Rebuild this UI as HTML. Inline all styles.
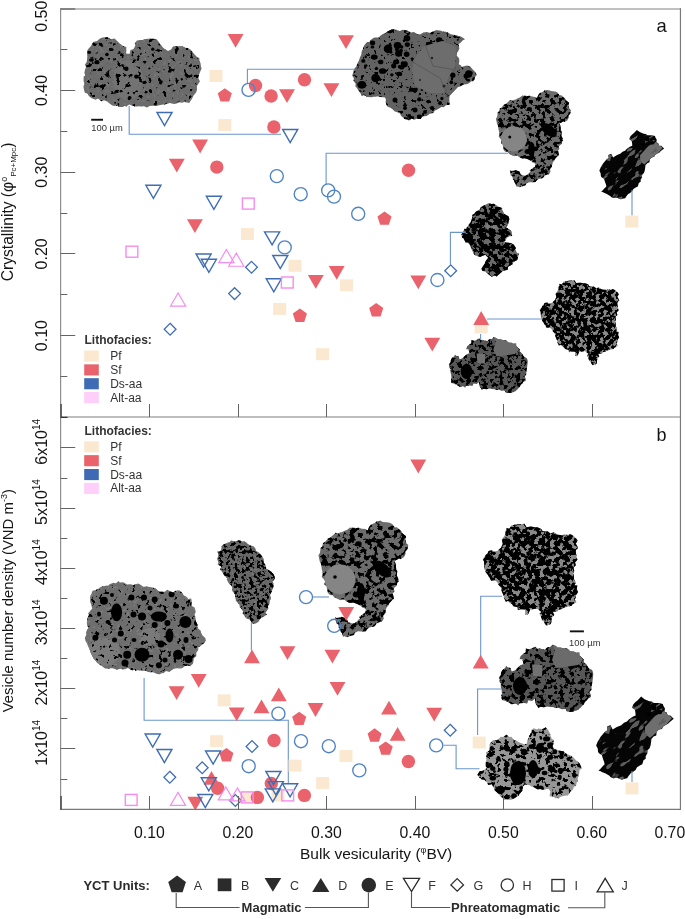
<!DOCTYPE html><html><head><meta charset="utf-8"><style>html,body{margin:0;padding:0;background:#fff;}svg{display:block;will-change:transform;}text{font-family:"Liberation Sans",sans-serif;}</style></head><body>
<svg width="685" height="919" viewBox="0 0 685 919">
<rect width="685" height="919" fill="#fff"/>
<clipPath id="c1"><polygon points="83.49,86.01 84.37,84.24 83.53,80.41 83.68,76.62 85.2,75.48 84.35,72.8 84.93,69.95 86.1,66.75 84.82,64.65 86.75,62.09 87.01,58.92 87.38,57.77 87.08,53.67 87.06,50.88 88.04,49.21 90.92,45.93 92.65,43.2 93.3,41.94 97.03,41.36 100,38.58 102.65,37.45 104.61,37.3 107.72,37.32 110.83,39.26 114.57,38.41 117.65,41.44 119.89,43.77 123.03,46.11 126.32,47.02 126.22,52.42 126.35,53.84 129.78,53.86 130.29,50.22 133.52,49.02 135.31,45.64 134.82,43.28 136.74,40.83 139.71,40 142.77,39.99 145.15,38.99 148.53,38.69 153.15,38.84 155.75,38.95 156.9,39.78 159.59,43.1 159.25,43.55 162.23,46.51 163.38,48.06 167.98,50.99 171.08,49.61 172.96,46.76 175.83,46.04 180.27,46.23 182.44,45.9 185.1,47.85 187.83,48.01 190.39,49.59 192.64,51.92 194.12,53.93 197.06,57.07 199.33,57.98 199.36,59.95 200.65,63.7 200.88,66.47 201.64,68.44 200.4,71.3 199.63,72.98 198.14,77.85 199.69,80.99 199.36,82.28 196.89,86.07 197.01,89.87 196.09,92.52 193.66,95.22 192.55,97.72 190.68,100.52 189.05,103.18 188.2,102.73 184.62,101.95 181.76,102.73 178.91,102.12 176.74,103.6 174.08,104.1 169.63,103.08 168.28,103.51 164.63,104.54 163.17,104.54 159.03,105.37 156.49,106.08 152.5,105.81 149.49,106.11 147,107.46 143.88,106.25 140.97,106.62 138.93,106.14 134.78,106.59 131.22,105.27 129.5,104.19 126.28,106.43 124.69,105.9 122.7,106.89 119.33,106.97 117.56,105.79 113.4,105.7 112.35,105.48 109.26,103.32 107.59,101.72 104.05,100.35 101.5,101.21 97.9,98.53 95.56,99.8 91.69,98.24 89.03,96.28 87.27,93.56 84.91,92.82 83.87,89.27"/></clipPath>
<filter id="f1" color-interpolation-filters="sRGB" filterUnits="userSpaceOnUse" x="80.8" y="35.6" width="122.6" height="73.3"><feTurbulence type="fractalNoise" baseFrequency="0.19" numOctaves="3" seed="11"/><feColorMatrix type="matrix" values="0 0 0 0 0  0 0 0 0 0  0 0 0 0 0  -12 0 0 0 4.62"/></filter>
<filter id="g1" color-interpolation-filters="sRGB" filterUnits="userSpaceOnUse" x="80.8" y="35.6" width="122.6" height="73.3"><feTurbulence type="fractalNoise" baseFrequency="0.3" numOctaves="2" seed="61"/><feColorMatrix type="matrix" values="0 0 0 0 0.46  0 0 0 0 0.46  0 0 0 0 0.46  12 0 0 0 -7.2"/></filter>
<g id="P1" clip-path="url(#c1)">
<rect x="80.8" y="35.6" width="122.6" height="73.3" fill="#6b6b6b"/>
<rect x="80.8" y="35.6" width="122.6" height="73.3" filter="url(#g1)"/>
<ellipse cx="128" cy="80" rx="15" ry="20" fill="#737373"/>
<rect x="80.8" y="35.6" width="122.6" height="73.3" filter="url(#f1)"/>
<ellipse cx="136.26" cy="76.63" rx="2.11" ry="2.1" fill="#000"/>
<ellipse cx="152.81" cy="49.14" rx="1.64" ry="1.69" fill="#000"/>
<ellipse cx="92.34" cy="57.84" rx="1.08" ry="1" fill="#000"/>
<ellipse cx="85.93" cy="107.59" rx="2.35" ry="2.25" fill="#000"/>
<ellipse cx="100.11" cy="36.7" rx="1.27" ry="1.35" fill="#000"/>
<ellipse cx="110.46" cy="37.81" rx="1.45" ry="1.65" fill="#000"/>
<ellipse cx="144.44" cy="82.53" rx="1.65" ry="1.47" fill="#000"/>
<ellipse cx="114.9" cy="108.73" rx="2.58" ry="2.38" fill="#000"/>
<ellipse cx="119.45" cy="52.43" rx="1" ry="1.33" fill="#000"/>
<ellipse cx="129.89" cy="97.65" rx="1.65" ry="1.53" fill="#000"/>
<ellipse cx="80.87" cy="50.97" rx="2.1" ry="2.47" fill="#000"/>
<ellipse cx="129.52" cy="40.95" rx="1.93" ry="1.53" fill="#000"/>
<ellipse cx="91.48" cy="59.98" rx="2.45" ry="1.82" fill="#000"/>
<ellipse cx="111.01" cy="43.01" rx="1.02" ry="0.77" fill="#000"/>
<ellipse cx="149.37" cy="68.4" rx="1.2" ry="0.91" fill="#000"/>
<ellipse cx="159.72" cy="44.14" rx="1.24" ry="1.26" fill="#000"/>
<ellipse cx="199.84" cy="94.49" rx="1.47" ry="1.08" fill="#000"/>
<ellipse cx="129.14" cy="98.23" rx="1.44" ry="2.03" fill="#000"/>
<ellipse cx="106.94" cy="54.53" rx="1.78" ry="1.73" fill="#000"/>
<ellipse cx="89.8" cy="42.21" rx="1.47" ry="1.68" fill="#000"/>
<ellipse cx="126.37" cy="68.82" rx="2.18" ry="2.21" fill="#000"/>
<ellipse cx="187.04" cy="49" rx="1.23" ry="1.14" fill="#000"/>
<ellipse cx="111.39" cy="49.51" rx="2.24" ry="1.61" fill="#000"/>
<ellipse cx="197.29" cy="100.26" rx="1.63" ry="1.38" fill="#000"/>
<ellipse cx="85.54" cy="106.16" rx="1.27" ry="1.02" fill="#000"/>
<ellipse cx="181.79" cy="79.32" rx="1.06" ry="1.32" fill="#000"/>
<ellipse cx="89.23" cy="52.34" rx="1.87" ry="1.66" fill="#000"/>
<ellipse cx="115.15" cy="102.84" rx="0.88" ry="0.99" fill="#000"/>
<ellipse cx="135.44" cy="40.03" rx="1.01" ry="1.08" fill="#000"/>
<ellipse cx="96.93" cy="62.15" rx="2.54" ry="2.18" fill="#000"/>
</g>
<clipPath id="c2"><polygon points="352.2,75.53 352.98,72.94 354.12,68.89 356.24,66.62 357.43,63.33 358.91,60.83 359.85,57.67 361.36,54.57 361.78,50.99 362.8,49.18 363.68,46.56 365.05,44.37 367.12,42.02 369.28,42.04 371.78,39.05 374.46,37.59 377.96,37.44 379.36,36.79 382.42,34.37 385.87,32.82 387.47,31.43 391.53,29.42 393.75,29.23 395.98,29.82 399.75,30.93 402.72,29.79 404.9,30.02 408.14,30.89 411.26,32.47 413.75,32.07 416.55,33.49 417.57,34.43 420.41,34.26 423.59,32.57 426.92,31.9 430.18,33.09 431.38,32.16 434.78,30.67 437.37,30.16 441.12,30.64 442.45,31.6 445.72,31.76 448.39,32.87 450.63,34.19 453.4,34.82 455.57,35.05 458.78,36.07 460.86,36.6 463.62,38.18 465.02,39.2 462.9,40.24 460.78,42.39 458.73,43.98 459.33,48.41 458.19,51.2 457.02,52.67 456.81,55.74 459.19,58.41 459.32,61.47 458.76,64.29 460.76,65.35 461.96,66.89 466.53,65.57 468.19,65.76 470.61,67.08 472.96,69.64 475.64,72.5 476.61,75.05 474.88,77.21 474.27,79.93 472.04,81.49 471.29,81.35 468.67,83.39 466.27,84.28 463.29,84.58 460.13,86.58 458.07,87.12 455.45,89.67 454.04,91.15 452.16,93.17 449.59,96.03 449.37,98.75 449.36,101.37 449.69,104.38 445.99,105.19 443.68,107.25 441.33,107.05 439.44,108.3 437.78,109.23 434.58,110.78 432.99,113.23 429.81,113.86 426.82,115.57 425.83,115.9 421.71,116.87 420.91,119.12 416.92,118.71 414.12,119.67 411.69,118.51 409.09,120.48 407.58,119.48 404.78,118.97 401.21,116 399.93,113.48 396.94,112.02 394.86,111.43 392.53,109.15 390.34,107.8 388.46,107.05 386.44,105.14 385.76,102.1 385.85,99.16 385.02,97.48 380.99,97.12 378.59,96.62 375.44,96.54 372.65,97.11 371.56,97.27 367.49,96.93 363.89,94.89 361.28,95.75 360.86,93.71 358.82,91.23 356.61,87.52 355.45,86.69 355.63,83.39 353.56,81.05 353.85,78.32"/></clipPath>
<filter id="f2" color-interpolation-filters="sRGB" filterUnits="userSpaceOnUse" x="350.8" y="27.7" width="127.4" height="94.2"><feTurbulence type="fractalNoise" baseFrequency="0.28" numOctaves="3" seed="12"/><feColorMatrix type="matrix" values="0 0 0 0 0  0 0 0 0 0  0 0 0 0 0  -12 0 0 0 4.44"/></filter>
<g id="P2" clip-path="url(#c2)">
<rect x="350.8" y="27.7" width="127.4" height="94.2" fill="#626262"/>
<rect x="350.8" y="27.7" width="127.4" height="94.2" filter="url(#f2)"/>
<ellipse cx="411.26" cy="89.63" rx="2.33" ry="2.17" fill="#000"/>
<ellipse cx="398.54" cy="53.52" rx="3.43" ry="3.21" fill="#000"/>
<ellipse cx="421.91" cy="90" rx="1.29" ry="1.12" fill="#000"/>
<ellipse cx="466.22" cy="33.24" rx="2.59" ry="3.34" fill="#000"/>
<ellipse cx="393.73" cy="65.81" rx="2.57" ry="2.62" fill="#000"/>
<ellipse cx="467.38" cy="75.64" rx="1.43" ry="1.35" fill="#000"/>
<ellipse cx="365.14" cy="67.57" rx="1.19" ry="1.33" fill="#000"/>
<ellipse cx="371.63" cy="93.34" rx="0.91" ry="1.17" fill="#000"/>
<ellipse cx="401.83" cy="67.15" rx="2.55" ry="2.39" fill="#000"/>
<ellipse cx="354.68" cy="96.12" rx="4.35" ry="3.74" fill="#000"/>
<ellipse cx="396.2" cy="61.91" rx="3.05" ry="2.34" fill="#000"/>
<ellipse cx="380.74" cy="61.92" rx="2.66" ry="2.28" fill="#000"/>
<ellipse cx="354.39" cy="105.19" rx="2.13" ry="1.83" fill="#000"/>
<ellipse cx="405.23" cy="64.27" rx="2.53" ry="3.04" fill="#000"/>
<ellipse cx="373.48" cy="93.25" rx="0.92" ry="0.94" fill="#000"/>
<ellipse cx="431.94" cy="32.6" rx="1.91" ry="1.95" fill="#000"/>
<ellipse cx="411.48" cy="118.01" rx="2.7" ry="1.91" fill="#000"/>
<ellipse cx="468.55" cy="62.01" rx="1.6" ry="1.64" fill="#000"/>
<ellipse cx="351.65" cy="52.97" rx="2.84" ry="2.67" fill="#000"/>
<ellipse cx="351.9" cy="31.47" rx="3.2" ry="3.08" fill="#000"/>
<ellipse cx="414.96" cy="29.95" rx="2.04" ry="2.01" fill="#000"/>
<ellipse cx="432.26" cy="49.32" rx="2.36" ry="2.44" fill="#000"/>
<ellipse cx="384.27" cy="116.88" rx="2.89" ry="3.04" fill="#000"/>
<ellipse cx="462.04" cy="53.92" rx="3.56" ry="3.72" fill="#000"/>
<ellipse cx="440.58" cy="47.87" rx="1.53" ry="1.79" fill="#000"/>
<ellipse cx="439.23" cy="40.11" rx="3.26" ry="2.95" fill="#000"/>
<ellipse cx="406.25" cy="119.97" rx="2.61" ry="2.82" fill="#000"/>
<ellipse cx="473.36" cy="99.33" rx="2.16" ry="2.35" fill="#000"/>
<ellipse cx="451.35" cy="82.35" rx="1.78" ry="2.01" fill="#000"/>
<ellipse cx="422.57" cy="29.31" rx="3.4" ry="3.15" fill="#000"/>
<ellipse cx="465.14" cy="113.47" rx="2.71" ry="2.23" fill="#000"/>
<ellipse cx="363.32" cy="60.97" rx="2.13" ry="1.87" fill="#000"/>
<ellipse cx="419.8" cy="86.3" rx="1.29" ry="1.34" fill="#000"/>
<ellipse cx="401.02" cy="50.85" rx="1.89" ry="2.15" fill="#000"/>
<ellipse cx="368.87" cy="36.23" rx="1.94" ry="1.92" fill="#000"/>
<ellipse cx="434.81" cy="115.75" rx="1.53" ry="1.88" fill="#000"/>
<ellipse cx="407.33" cy="44.6" rx="2.58" ry="2.42" fill="#000"/>
<ellipse cx="392.52" cy="116.61" rx="0.89" ry="0.84" fill="#000"/>
<ellipse cx="376.45" cy="68.44" rx="1.81" ry="1.5" fill="#000"/>
<ellipse cx="439.74" cy="42.99" rx="2.31" ry="2.45" fill="#000"/>
<ellipse cx="382.63" cy="71" rx="3.77" ry="2.86" fill="#000"/>
<ellipse cx="419.34" cy="99.41" rx="2.17" ry="2.1" fill="#000"/>
<ellipse cx="474.69" cy="79.88" rx="2.62" ry="2.99" fill="#000"/>
<ellipse cx="391.86" cy="74.79" rx="1.76" ry="1.6" fill="#000"/>
<ellipse cx="379.55" cy="78.97" rx="1.3" ry="1.77" fill="#000"/>
<ellipse cx="387.19" cy="115.88" rx="2.45" ry="2.89" fill="#000"/>
<ellipse cx="465.11" cy="57.94" rx="1.35" ry="1.41" fill="#000"/>
<ellipse cx="428.32" cy="101.58" rx="2.17" ry="1.82" fill="#000"/>
<ellipse cx="402.64" cy="63.47" rx="1.9" ry="2.18" fill="#000"/>
<ellipse cx="372.44" cy="47.02" rx="1.96" ry="1.6" fill="#000"/>
<ellipse cx="357.54" cy="106.39" rx="3.81" ry="3.07" fill="#000"/>
<ellipse cx="444.39" cy="56.48" rx="1.51" ry="1.44" fill="#000"/>
<ellipse cx="377.71" cy="110.58" rx="0.91" ry="0.78" fill="#000"/>
<ellipse cx="372.59" cy="43.08" rx="2.64" ry="2.48" fill="#000"/>
<ellipse cx="374.25" cy="57.09" rx="3.46" ry="2.71" fill="#000"/>
<ellipse cx="438.07" cy="78.21" rx="2.19" ry="2.24" fill="#000"/>
<ellipse cx="452.81" cy="75.3" rx="2.64" ry="2.76" fill="#000"/>
<ellipse cx="400.29" cy="66.78" rx="2.57" ry="2.09" fill="#000"/>
<ellipse cx="468.63" cy="74" rx="3.57" ry="3.8" fill="#000"/>
<ellipse cx="437.74" cy="67.91" rx="2.14" ry="2.2" fill="#000"/>
<ellipse cx="457.69" cy="39.88" rx="0.91" ry="0.89" fill="#000"/>
<ellipse cx="357.99" cy="28.49" rx="1.34" ry="1.69" fill="#000"/>
<ellipse cx="429.25" cy="118.66" rx="3.97" ry="4.12" fill="#000"/>
<ellipse cx="354.38" cy="49.17" rx="3.45" ry="3" fill="#000"/>
<ellipse cx="447.22" cy="67.6" rx="2.23" ry="2.12" fill="#000"/>
<ellipse cx="361.91" cy="84.87" rx="4.32" ry="3.84" fill="#000"/>
<ellipse cx="469.72" cy="61.82" rx="2.07" ry="1.77" fill="#000"/>
<ellipse cx="436.04" cy="28.88" rx="1.54" ry="1.66" fill="#000"/>
<ellipse cx="456.01" cy="99.04" rx="1.77" ry="2.08" fill="#000"/>
<ellipse cx="476.87" cy="73.39" rx="1.54" ry="1.45" fill="#000"/>
<ellipse cx="396.88" cy="49.41" rx="2.09" ry="1.65" fill="#000"/>
<ellipse cx="419.71" cy="117.41" rx="2.66" ry="2.82" fill="#000"/>
<ellipse cx="363.84" cy="97.13" rx="2.29" ry="2.66" fill="#000"/>
<ellipse cx="426.71" cy="82.07" rx="1.81" ry="1.81" fill="#000"/>
<ellipse cx="477.89" cy="58.82" rx="2.27" ry="1.96" fill="#000"/>
<ellipse cx="401.73" cy="47.01" rx="1.71" ry="1.66" fill="#000"/>
<ellipse cx="470.29" cy="55.67" rx="1.97" ry="1.72" fill="#000"/>
<ellipse cx="416.5" cy="88.7" rx="1.21" ry="0.92" fill="#000"/>
<ellipse cx="382.68" cy="103.98" rx="3.94" ry="3.1" fill="#000"/>
<ellipse cx="406.63" cy="54.32" rx="2.87" ry="2.79" fill="#000"/>
<ellipse cx="432.09" cy="87.72" rx="2.53" ry="2.95" fill="#000"/>
<ellipse cx="409.21" cy="115.97" rx="1.98" ry="1.85" fill="#000"/>
<ellipse cx="441.91" cy="98.49" rx="1.6" ry="1.69" fill="#000"/>
<ellipse cx="414.7" cy="90.1" rx="2.88" ry="2.42" fill="#000"/>
<ellipse cx="389.86" cy="30.02" rx="3.82" ry="3.16" fill="#000"/>
<ellipse cx="474.02" cy="112.71" rx="1.54" ry="1.27" fill="#000"/>
<ellipse cx="390.84" cy="52.11" rx="1.66" ry="1.65" fill="#000"/>
<ellipse cx="365.69" cy="56.65" rx="1.14" ry="1.5" fill="#000"/>
<ellipse cx="399.17" cy="73.88" rx="3.08" ry="2.17" fill="#000"/>
<ellipse cx="379.86" cy="108.75" rx="4.09" ry="3.39" fill="#000"/>
<ellipse cx="397.56" cy="45.47" rx="3.84" ry="3.43" fill="#000"/>
<ellipse cx="451.62" cy="52.26" rx="2.83" ry="1.97" fill="#000"/>
<ellipse cx="429.45" cy="45.16" rx="3.72" ry="3.34" fill="#000"/>
<ellipse cx="406.34" cy="29.73" rx="2.15" ry="2.14" fill="#000"/>
<ellipse cx="360.7" cy="114.39" rx="2.43" ry="2.63" fill="#000"/>
<polygon points="415,58 424,46 442,41 456,47 455,66 448,78 444,93 430,93 415,86 412,70" fill="#6d6d6d"/>
<polyline points="413,62 440,78 448,96" fill="none" stroke="#555" stroke-width="0.8"/><polyline points="425,45 433,66 456,70" fill="none" stroke="#555" stroke-width="0.8"/><circle cx="432" cy="58" r="1.2" fill="#222"/><circle cx="444" cy="86" r="1.5" fill="#222"/><circle cx="420" cy="80" r="1" fill="#222"/><circle cx="388" cy="48.7" r="4.3" fill="#000"/><circle cx="375.6" cy="78" r="4.3" fill="#000"/><circle cx="407" cy="38.3" r="3.3" fill="#000"/><circle cx="455" cy="95" r="2.5" fill="#000"/><circle cx="462" cy="85" r="2" fill="#000"/><circle cx="450" cy="105" r="2.5" fill="#000"/><circle cx="440" cy="103" r="2" fill="#000"/><circle cx="432" cy="108" r="2" fill="#000"/><circle cx="466" cy="76" r="2.5" fill="#000"/><circle cx="471" cy="73" r="1.8" fill="#000"/><circle cx="425" cy="112" r="2" fill="#000"/><circle cx="415" cy="110" r="2.5" fill="#000"/><circle cx="405" cy="108" r="2" fill="#000"/><circle cx="395" cy="100" r="2.5" fill="#000"/><circle cx="458" cy="100" r="1.8" fill="#000"/><circle cx="445" cy="112" r="1.8" fill="#000"/><circle cx="468" cy="80" r="1.5" fill="#000"/>
</g>
<clipPath id="c5"><polygon points="462.15,237.64 461.44,234.45 464.63,228.85 466.4,228.99 466.59,227.63 468.85,224.47 470.7,222.16 472.04,218.16 472.46,214.86 474.11,213.94 475.79,211.74 479.92,209.46 480.76,207.3 483.38,205.66 483.77,205.54 488.75,203.34 491.75,203.92 493.84,203.77 495.67,204.63 498.14,206.57 502.02,207.92 502.24,209.7 504.44,213.91 508.78,216.49 509.33,219.23 508.58,222.1 508,224.42 506.56,227.51 511.24,230.97 511.76,231.81 512.14,236.1 507.7,236.57 504.34,242.2 508.67,242.64 511.39,243.33 513.84,244.66 516.06,248.25 515.3,249.25 516.86,253.08 518.86,253.58 518.01,257.2 517.25,260.12 513.43,262.09 512.53,264.18 510.9,265.18 508.04,266.81 507.73,269.77 503.75,270.74 502.01,271.78 498.28,274.97 496.67,276.54 494.75,275.54 491.78,276.79 488.7,274.44 485.29,271.49 482.15,270.75 481.44,268.69 484.38,263.93 485.73,261.02 488.23,257.81 485.28,254.79 481.56,256.35 480.11,256.96 474.65,255.04 473.05,252.42 471.34,248.46 470.09,244.95 467.95,242.62 465.82,242.74 464.08,239.48"/></clipPath>
<filter id="f5" color-interpolation-filters="sRGB" filterUnits="userSpaceOnUse" x="459.6" y="201.2" width="60.9" height="76.8"><feTurbulence type="fractalNoise" baseFrequency="0.2" numOctaves="3" seed="15"/><feColorMatrix type="matrix" values="0 0 0 0 0  0 0 0 0 0  0 0 0 0 0  -12 0 0 0 7.2"/></filter>
<g id="P5" clip-path="url(#c5)">
<rect x="459.6" y="201.2" width="60.9" height="76.8" fill="#6a6a6a"/>
<ellipse cx="492" cy="226" rx="6" ry="5" fill="#7a7a7a"/>
<rect x="459.6" y="201.2" width="60.9" height="76.8" filter="url(#f5)"/>
</g>
<clipPath id="c8"><polygon points="84.81,638 86.58,634.11 85.82,633.51 87.25,629.34 88.4,628.24 87.18,625.45 86.82,622.64 87.39,617.8 88.99,615.11 88.07,613.62 91.27,609.6 92.28,608.66 91.34,604.96 90.17,601.91 90.11,599.01 90.2,596.49 91.18,594.52 92.59,590.68 95.23,590.13 98.31,588.78 101.21,586.66 105.62,585.71 108.45,585.52 109.58,584.14 113.32,582.67 116.08,583.14 118.49,580.95 119.79,582.44 123.23,582.3 127.17,584.43 130.06,584.24 133.68,584.94 137.98,583.51 139.66,584.21 143.37,586.63 146.68,586.52 151.29,587.17 155.55,588.24 158.1,590.69 160.13,591.48 164.84,591.64 167.11,589.63 169.68,590.96 173.14,592.4 175.72,590.79 179.48,590.6 181.13,591.69 183.93,595.45 186.53,596.65 188.18,599.01 191.18,598.46 191.68,601.46 191.36,605.72 194.19,607.37 195.03,608.63 195.74,612 194.6,614.21 195.51,617.96 195.87,620.81 195.78,621.04 197.49,624.57 197.55,627.55 198.16,628.57 200.73,630.85 201.08,632.82 202.53,635.49 205.32,637.92 205.9,640.83 203.06,643.93 200.52,646.08 198.24,647.22 198.24,649.99 196.3,652.86 196.31,655.93 193.81,658.13 193.46,661.34 192.92,663.85 190.18,666.35 187.68,665.62 184.42,666.34 183.5,667.33 181.26,668.55 176.58,668.13 173.92,668.8 171.18,670.49 169.37,672.06 166.04,671.07 163.4,673.2 162.6,672.9 159.6,674.19 156.45,673.82 153.13,672.27 151.7,672.3 147.65,672.08 146.74,671.34 143.65,670.42 142,670.79 137.62,670.13 135.62,670.99 134.17,669.02 132.09,670.41 127.96,667.89 124.86,669.13 122.77,669.49 120.44,668.69 117.96,669.17 116.91,669.71 112.62,668.28 110.25,668.25 108.97,668.68 105.29,668.56 102.69,666.66 99.86,664.57 97.22,662.82 95.64,660.77 93.53,658.47 92.36,656.19 91.46,654.33 90.49,652.45 89.24,648.16 88.16,646.59 87.5,644.22 85.65,641.13"/></clipPath>
<filter id="f8" color-interpolation-filters="sRGB" filterUnits="userSpaceOnUse" x="83.9" y="579.6" width="123.6" height="96.1"><feTurbulence type="fractalNoise" baseFrequency="0.22" numOctaves="3" seed="18"/><feColorMatrix type="matrix" values="0 0 0 0 0  0 0 0 0 0  0 0 0 0 0  -12 0 0 0 4.44"/></filter>
<filter id="g8" color-interpolation-filters="sRGB" filterUnits="userSpaceOnUse" x="83.9" y="579.6" width="123.6" height="96.1"><feTurbulence type="fractalNoise" baseFrequency="0.3" numOctaves="2" seed="68"/><feColorMatrix type="matrix" values="0 0 0 0 0.49  0 0 0 0 0.49  0 0 0 0 0.49  12 0 0 0 -7.44"/></filter>
<g id="P8" clip-path="url(#c8)">
<rect x="83.9" y="579.6" width="123.6" height="96.1" fill="#6e6e6e"/>
<rect x="83.9" y="579.6" width="123.6" height="96.1" filter="url(#g8)"/>
<ellipse cx="104" cy="652" rx="16" ry="14" fill="#7b7b7b"/>
<ellipse cx="150" cy="636" rx="10" ry="8" fill="#7a7a7a"/>
<rect x="83.9" y="579.6" width="123.6" height="96.1" filter="url(#f8)"/>
<ellipse cx="116.6" cy="612.3" rx="5.5" ry="9" fill="#000"/><ellipse cx="142" cy="654.7" rx="7.5" ry="7" fill="#000"/><ellipse cx="127.2" cy="654.7" rx="4" ry="4" fill="#000"/><ellipse cx="158.9" cy="616.6" rx="8" ry="5" fill="#000"/><ellipse cx="169.5" cy="635.6" rx="4" ry="7" fill="#000"/><ellipse cx="185.4" cy="621.9" rx="6" ry="6" fill="#000"/><ellipse cx="178" cy="654.7" rx="5" ry="5" fill="#000"/><ellipse cx="103.9" cy="600.7" rx="4" ry="4" fill="#000"/><ellipse cx="142" cy="616.6" rx="4" ry="4" fill="#000"/><ellipse cx="188.5" cy="658.9" rx="4" ry="4" fill="#000"/><ellipse cx="161" cy="644" rx="3.5" ry="3.5" fill="#000"/><ellipse cx="131.4" cy="597.5" rx="3" ry="3" fill="#000"/><ellipse cx="144" cy="597.5" rx="3" ry="3" fill="#000"/><ellipse cx="154.7" cy="599.6" rx="3" ry="3" fill="#000"/><ellipse cx="171.6" cy="594.3" rx="3" ry="3" fill="#000"/><ellipse cx="120.8" cy="633.5" rx="3" ry="3" fill="#000"/><ellipse cx="114.5" cy="639.9" rx="2.5" ry="2.5" fill="#000"/><ellipse cx="95.4" cy="637.7" rx="3" ry="3" fill="#000"/><ellipse cx="154.7" cy="625" rx="3" ry="3" fill="#000"/><ellipse cx="167.4" cy="622.9" rx="3" ry="3" fill="#000"/><ellipse cx="197" cy="622.9" rx="3" ry="3" fill="#000"/><ellipse cx="125" cy="663.1" rx="3.5" ry="3.5" fill="#000"/><ellipse cx="158.9" cy="665.3" rx="3" ry="3" fill="#000"/><ellipse cx="133.5" cy="614.5" rx="3" ry="3" fill="#000"/><ellipse cx="108" cy="622" rx="2.5" ry="2" fill="#000"/><ellipse cx="150" cy="608" rx="2.5" ry="2.5" fill="#000"/><ellipse cx="176" cy="606" rx="3" ry="2.5" fill="#000"/><ellipse cx="186" cy="640" rx="2.5" ry="3" fill="#000"/><ellipse cx="134" cy="640" rx="2.5" ry="2" fill="#000"/><ellipse cx="99" cy="614" rx="2" ry="2.5" fill="#000"/><ellipse cx="165" cy="660" rx="2.5" ry="2.5" fill="#000"/><ellipse cx="112" cy="595" rx="2" ry="2" fill="#000"/><ellipse cx="192" cy="604" rx="2.5" ry="2" fill="#000"/>
</g>
<clipPath id="c9"><polygon points="217.66,551.38 220.46,550.95 221.49,548.64 221.36,546.33 223.97,544.23 227.28,542.7 229.81,541.99 230.97,540.39 235.34,541.6 239.04,540.36 242.67,541.49 244.98,541.53 248.25,544.31 249.89,545.01 254.01,546.71 255.39,548.5 256.14,551.31 259.54,552.95 261.85,556.07 263.37,558.43 263.57,560.64 263.75,562.78 265.51,564.75 266.44,568.92 268.21,569.85 271.25,571.77 273.04,573.61 274.97,576.62 274.68,578.75 272.64,581.49 273.55,583.61 273.32,588.06 272.53,589.28 271.7,591.82 269.98,594.74 271.13,598.8 269.61,600.84 269.29,604.11 267.86,606.02 268.45,608.45 265.42,612.76 266.87,614.53 264.12,616.18 260.44,618.45 258.33,621.9 255,623.64 252.9,623.76 251.64,622.37 249.58,619.22 247.12,619.12 245.13,616.86 242.69,613.31 243.18,611.51 240.94,608.56 239.81,607.35 239.73,604.91 237.22,602.26 235.9,600.48 235.16,596.43 235.24,594.87 232.86,591.48 231.85,590.01 232.65,586.99 229.53,584.22 228.42,582.63 226.72,579.18 227.38,578.74 224.02,575.08 222.74,572.64 222.09,571.64 220.23,569.47 221.28,566.42 217.71,564.43 218.48,562.87 217.16,559.06 218.32,555.49"/></clipPath>
<filter id="f9" color-interpolation-filters="sRGB" filterUnits="userSpaceOnUse" x="215.7" y="538.9" width="60.8" height="87.5"><feTurbulence type="fractalNoise" baseFrequency="0.26" numOctaves="3" seed="19"/><feColorMatrix type="matrix" values="0 0 0 0 0  0 0 0 0 0  0 0 0 0 0  -12 0 0 0 6"/></filter>
<filter id="g9" color-interpolation-filters="sRGB" filterUnits="userSpaceOnUse" x="215.7" y="538.9" width="60.8" height="87.5"><feTurbulence type="fractalNoise" baseFrequency="0.35" numOctaves="2" seed="69"/><feColorMatrix type="matrix" values="0 0 0 0 0.47  0 0 0 0 0.47  0 0 0 0 0.47  12 0 0 0 -7.2"/></filter>
<g id="P9" clip-path="url(#c9)">
<rect x="215.7" y="538.9" width="60.8" height="87.5" fill="#676767"/>
<rect x="215.7" y="538.9" width="60.8" height="87.5" filter="url(#g9)"/>
<rect x="215.7" y="538.9" width="60.8" height="87.5" filter="url(#f9)"/>
</g>
<clipPath id="c10"><polygon points="318.44,555.27 319.86,552.95 320.42,549.85 320.17,548.52 321.94,546.66 323.09,543.08 324.74,542.15 327.65,538.74 329.75,537.64 330.84,537.04 333.21,535.02 335.53,532.85 337.97,533.28 342.17,532.11 344.52,530.68 346.89,529.93 349.72,527.87 352.42,527.65 356.3,528.12 358.97,527.63 361.76,528.63 365.6,529.09 367.64,530.4 369.17,526.86 371.17,524.44 374.67,523.07 377.01,521.14 380.76,520.86 382.46,521.89 386.56,522.24 389.76,522.63 392.14,523.88 394.76,527.21 396.91,527.17 399.66,529.78 401.7,531.69 402.59,533.46 406.1,536.2 405.48,540.03 406.62,543.69 408.34,544.88 407.51,549.03 405.02,551.96 405.65,553.83 403.87,557.32 400.17,559.14 399.15,558.33 394.67,561.27 395.62,563.76 396.01,565.87 396.1,568.46 397.27,570.97 396.79,575.6 398.39,578.95 399,581.31 397.13,582.68 396.97,585.45 393.49,588.54 394.57,591.18 392.83,593.74 393.99,598.96 391.76,600.49 388.87,603.76 388.3,605.74 386.62,607.19 385.75,609.72 385.38,612.98 383.24,616.27 383.86,618.65 381.63,621.62 380.28,621.63 377.46,623.11 374.24,626.22 373.06,626.6 368.96,627.67 366.6,629.84 365.91,631.14 361.9,631.43 358,631.33 355.05,632.83 353.86,635 350.95,635.8 347.11,637.31 344.5,636.37 342.85,636.55 342.03,633.29 340.85,631.67 339.79,628.52 338.84,627.89 338.09,624.59 336.12,623.2 335.36,616.8 336.29,617.94 340.63,617.41 341.56,616.75 345.46,618.2 346.58,618.47 348.09,622.04 351.43,623.17 354.1,623.44 357.2,621.13 358.21,619.84 360.06,618.61 358.74,616.98 361.04,615.38 365.4,612.35 365.84,609.39 363.76,607.85 363.11,608.03 360.11,605.48 356.72,603.86 352.97,602.52 349.95,602.99 345.96,601.13 344.78,599.88 342.2,599.14 340.34,600.19 336.88,598.62 334.38,597.53 332.56,595.15 330.11,595.03 327.82,592.93 327.18,589.39 326.37,585.85 324.42,584.42 325,581.05 323.38,578.74 321.79,576.51 322.91,573.74 321.86,569.38 321.72,568.04 320.96,563.93 319.87,561.88"/></clipPath>
<filter id="f10" color-interpolation-filters="sRGB" filterUnits="userSpaceOnUse" x="316.4" y="518.4" width="93.7" height="121.2"><feTurbulence type="fractalNoise" baseFrequency="0.18" numOctaves="3" seed="20"/><feColorMatrix type="matrix" values="0 0 0 0 0  0 0 0 0 0  0 0 0 0 0  -12 0 0 0 6.12"/></filter>
<g id="P10" clip-path="url(#c10)">
<rect x="316.4" y="518.4" width="93.7" height="121.2" fill="#6c6c6c"/>
<rect x="316.4" y="518.4" width="93.7" height="121.2" filter="url(#f10)"/>
<ellipse cx="401.26" cy="601.57" rx="4.26" ry="3.19" fill="#000"/>
<ellipse cx="375.97" cy="628.08" rx="3.96" ry="3.25" fill="#000"/>
<ellipse cx="354.96" cy="638.85" rx="2.08" ry="2.6" fill="#000"/>
<ellipse cx="358.51" cy="543.69" rx="3.18" ry="2.46" fill="#000"/>
<ellipse cx="356.44" cy="594.48" rx="3.69" ry="3.01" fill="#000"/>
<ellipse cx="370.11" cy="522.65" rx="1.94" ry="2.36" fill="#000"/>
<ellipse cx="342.96" cy="602.06" rx="1.98" ry="1.88" fill="#000"/>
<ellipse cx="382.53" cy="622.52" rx="2.21" ry="1.96" fill="#000"/>
<ellipse cx="340" cy="579.5" rx="15.5" ry="15" fill="#858585"/>
<circle cx="335" cy="577" r="1.8" fill="#000"/><ellipse cx="382" cy="569" rx="11" ry="6" transform="rotate(40 382 569)" fill="#000"/><ellipse cx="361" cy="592" rx="4" ry="9" fill="#000"/>
</g>
<clipPath id="c11"><polygon points="482.81,559.21 486.26,554.37 487.14,554.13 488.59,550.92 491.86,550.23 493.76,551.86 497.61,550.63 499.51,548.89 500.94,547.81 502.67,543.95 502.75,543.79 501.78,539.69 502.85,538.35 505.61,534.05 505.26,532.9 506.69,527.88 509.2,528.67 511.59,525.53 514.4,524.79 516.53,524.2 521.36,524.13 524.48,523.7 526.55,527.14 530.97,526.61 532.1,526.8 536.23,527.5 536.76,527.11 541.34,528.94 542.86,531.16 546.14,531.54 547.62,531.32 550.44,533.4 553.46,532.25 557.66,534.87 560.14,535.12 562.16,535.01 565.05,534.69 568.4,534.73 570.15,534.18 572.16,535.12 575.82,537.93 577.59,540.5 576,543.5 578.13,547.98 576.12,549.82 575.78,551.52 576.57,556.75 577.47,559.71 575.19,562.16 575.02,562.46 575.93,565.26 573.56,567.48 574.3,571.32 573.04,573.2 573.78,574.95 574.1,579.39 575.99,582.51 574.34,585.14 577.35,585.54 576.74,589.37 578.07,592.07 575.79,595.47 575.71,598 574.55,599.58 576.54,602.29 571.92,604.83 571.86,605.68 566.89,606.81 563.7,607.8 562.56,608.76 558.5,609.94 557.59,611.62 552.81,611.78 554.3,614.98 551.87,617.79 551.31,622.59 550.75,623.9 546.46,625.44 545.27,624.36 543.44,620.92 541.96,620.45 541.73,618.67 539.6,613.39 541.52,611.9 536.87,608.51 535.46,608.68 532.53,609.22 530.29,609.43 528.39,613.68 527.73,615.16 526.18,614.53 525.46,614.49 525.12,609.42 520.83,609.15 517.89,609.94 517.61,607.3 513.4,606.14 512.1,604.26 507.55,601.16 505.8,601.85 503.71,597.23 504.19,596.93 503.01,594.33 501.14,589.82 501.09,588.41 500.28,586.63 498.41,584.65 497.15,582.05 494.6,580.32 491.21,580.74 490.31,579.33 487.55,574.62 485.77,572.3 484.93,569.68 484.36,566.67 483.97,561.55"/></clipPath>
<filter id="f11" color-interpolation-filters="sRGB" filterUnits="userSpaceOnUse" x="481.1" y="520.9" width="98.6" height="107.3"><feTurbulence type="fractalNoise" baseFrequency="0.2" numOctaves="3" seed="21"/><feColorMatrix type="matrix" values="0 0 0 0 0  0 0 0 0 0  0 0 0 0 0  -12 0 0 0 7.2"/></filter>
<g id="P11" clip-path="url(#c11)">
<rect x="481.1" y="520.9" width="98.6" height="107.3" fill="#898989"/>
<rect x="481.1" y="520.9" width="98.6" height="107.3" filter="url(#f11)"/>
</g>
<clipPath id="c12"><polygon points="501.29,695.29 501.93,693.54 501.53,689.37 500.83,687.49 500.82,683.39 499.78,682.23 499.35,677.16 500.97,674.73 500.77,673.02 502.55,669.96 505.31,667.82 506.11,665.83 507.6,667.13 510.43,667.98 511.73,671.52 515.14,670.16 517.49,667.93 520.57,664.97 523.69,664.47 522.28,659.04 519.57,659.35 520.64,655.96 523.07,654.05 525.76,652.2 525.91,648.48 528.59,649.2 531.37,648.54 535.13,646.65 537.66,648.88 539.33,648.09 541.61,648.96 544.82,649.46 547.37,647.3 550.19,647.12 552.8,644.73 555.78,645.86 557.44,647.49 560.11,647.51 563.61,648.21 566.97,648.5 570.32,651.33 573.89,651.58 576.53,652.87 579.39,652.29 579.45,655.32 581.61,657.56 583.88,659.76 583.96,662.15 586.84,664.75 588.07,667.42 588.85,668.21 592.14,670.11 592.81,671.68 593.24,673.15 593.09,676.33 592.6,680.43 592.08,683.76 591.45,686.9 591.69,689.54 589.42,692.19 591.1,694.99 590.41,697.5 587.97,698.69 586.78,700.31 584.82,702.01 583.7,704.49 580.48,707.6 578.54,709.74 576.53,710.61 572.28,711.82 570.79,711.94 566.81,711.39 566.11,708.94 561.78,709.21 558.17,707.77 556.48,708.11 553.98,707.26 550.31,707.06 547.6,706.4 543.73,707.21 540.71,706.85 538.43,708.06 536.13,704.66 535.44,703.42 534.83,698.84 532.02,700.98 528.33,700.35 527.21,703.17 523.58,702.98 519.48,703.27 518.34,705.51 516.05,703.8 511.3,704.21 508.69,702.37 505.68,700.88 501.89,699.95"/></clipPath>
<filter id="f12" color-interpolation-filters="sRGB" filterUnits="userSpaceOnUse" x="498.4" y="643.4" width="95.9" height="69.9"><feTurbulence type="fractalNoise" baseFrequency="0.2" numOctaves="3" seed="22"/><feColorMatrix type="matrix" values="0 0 0 0 0  0 0 0 0 0  0 0 0 0 0  -12 0 0 0 6"/></filter>
<g id="P12" clip-path="url(#c12)">
<rect x="498.4" y="643.4" width="95.9" height="69.9" fill="#575757"/>
<rect x="498.4" y="643.4" width="95.9" height="69.9" filter="url(#f12)"/>
<polygon points="553.2,645.4 564,647.7 573.2,651.5 579.3,653 583,660 578,665 565,667 556,668 552,660 555,650" fill="#6b6b6b"/>
<polygon points="532,664.5 542.5,665 542,676.8 533,676" fill="#727272"/>
<ellipse cx="520" cy="686" rx="7" ry="9" fill="#000"/>
</g>
<clipPath id="c13"><polygon points="477.33,774.67 479.92,771.32 482.87,770.63 486.28,768.21 485.16,765.26 485.23,762.9 486.56,759.61 485.92,758.34 486.55,754.76 485.89,752.51 488.76,750.79 489.42,748.29 489.82,744.51 491.19,742.1 493.33,739.96 496.95,740.35 498.89,738.83 500.84,736.64 503.03,736.91 506.56,734.74 509.45,736.93 511.39,736.76 514.3,740.4 515.27,740.04 519.54,742.57 522.93,743.75 524.46,744.19 526.99,743.51 527.15,741.09 528.74,737.71 529.03,736.21 530.84,733.21 531.39,729.98 533.74,728.25 537.19,729.51 538.21,728.48 542.13,729.15 545.89,727.34 548.02,729.69 550.21,733.95 550.43,735.58 551.79,738.95 554.11,739.95 553.55,743.92 552.24,746.03 554.08,749.27 555.04,748.71 557.6,749.98 561.28,750.91 563.84,751.22 565.18,752.99 567.91,754.55 571.31,755.86 572.95,757.08 575.2,759.48 576.49,760.8 579.49,763.19 580.92,766.28 582.16,768.18 579.56,769.94 579.33,772.47 578.81,776.13 577.69,777.97 577.93,780.38 576.75,782.56 576.07,785.72 573.84,786.86 572.84,789.82 570.42,791.62 568.95,794.52 566.78,795.62 564.58,795.78 561.16,796.49 558.62,798.33 555.31,798.35 554.5,797.24 549.71,796.36 549.87,793.23 550.56,791.79 548.78,789.12 546.43,789.1 544.43,789.7 540.13,788.92 537.42,789.18 534.64,787.55 532.05,786.6 529.46,785.13 524.96,784.6 523.12,786.62 522.47,790.54 520.15,793.15 519.43,794.01 518.67,796.09 515.93,797.31 513.26,799.05 511.23,799.66 507.83,799.71 504.02,799.7 502.6,797.65 500.83,797.02 499.64,795.21 496.71,791.99 494.4,790.1 493.71,788.07 491.83,784.37 488.16,784.69 487.27,782.63 484.23,779.72 482.09,779.55 480.02,778.85 478.64,776.87"/></clipPath>
<filter id="f13" color-interpolation-filters="sRGB" filterUnits="userSpaceOnUse" x="476.4" y="726" width="107.2" height="75.7"><feTurbulence type="fractalNoise" baseFrequency="0.22" numOctaves="3" seed="23"/><feColorMatrix type="matrix" values="0 0 0 0 0  0 0 0 0 0  0 0 0 0 0  -12 0 0 0 5.64"/></filter>
<g id="P13" clip-path="url(#c13)">
<rect x="476.4" y="726" width="107.2" height="75.7" fill="#979797"/>
<rect x="476.4" y="726" width="107.2" height="75.7" filter="url(#f13)"/>
<ellipse cx="575.55" cy="797.81" rx="2.35" ry="2.91" fill="#000"/>
<ellipse cx="521.83" cy="766.13" rx="1.27" ry="1.4" fill="#000"/>
<ellipse cx="500.1" cy="760.45" rx="1.04" ry="1.35" fill="#000"/>
<ellipse cx="521.56" cy="764.81" rx="2.42" ry="2.08" fill="#000"/>
<ellipse cx="560.35" cy="770.6" rx="2.57" ry="2.83" fill="#000"/>
<ellipse cx="515.29" cy="783.52" rx="1.97" ry="1.98" fill="#000"/>
<ellipse cx="510.1" cy="732.49" rx="2.31" ry="2.13" fill="#000"/>
<ellipse cx="524.37" cy="774.63" rx="1.34" ry="1.42" fill="#000"/>
<ellipse cx="563.86" cy="740.81" rx="1.19" ry="1.15" fill="#000"/>
<ellipse cx="505.94" cy="769.36" rx="2.54" ry="2.54" fill="#000"/>
<ellipse cx="507.33" cy="749.07" rx="2.72" ry="2.35" fill="#000"/>
<ellipse cx="487.88" cy="785.33" rx="2.9" ry="2.21" fill="#000"/>
<ellipse cx="534.88" cy="795.55" rx="2.78" ry="1.97" fill="#000"/>
<ellipse cx="580.92" cy="730.23" rx="1.58" ry="2.19" fill="#000"/>
<ellipse cx="550.07" cy="799.71" rx="3.25" ry="2.69" fill="#000"/>
<ellipse cx="582.34" cy="782.7" rx="2.26" ry="1.73" fill="#000"/>
<ellipse cx="497.12" cy="731.74" rx="1.81" ry="2.39" fill="#000"/>
<ellipse cx="578.29" cy="742.35" rx="1.44" ry="1.2" fill="#000"/>
<ellipse cx="534.68" cy="787.53" rx="1.64" ry="1.92" fill="#000"/>
<ellipse cx="524.07" cy="751.95" rx="3.27" ry="3.25" fill="#000"/>
<ellipse cx="550.13" cy="757.24" rx="2.87" ry="2.58" fill="#000"/>
<ellipse cx="501.96" cy="748.35" rx="2.22" ry="1.98" fill="#000"/>
<ellipse cx="535.35" cy="788.57" rx="1.51" ry="1.3" fill="#000"/>
<ellipse cx="536.36" cy="789.24" rx="2.02" ry="1.37" fill="#000"/>
<ellipse cx="536.65" cy="767.02" rx="1.71" ry="1.6" fill="#000"/>
<ellipse cx="524.6" cy="780.38" rx="1.17" ry="1.34" fill="#000"/>
<ellipse cx="491.61" cy="791.66" rx="1.73" ry="1.36" fill="#000"/>
<ellipse cx="524.57" cy="757.99" rx="1.5" ry="1.34" fill="#000"/>
<ellipse cx="550.26" cy="766.81" rx="2.28" ry="2.02" fill="#000"/>
<ellipse cx="572.75" cy="732.54" rx="3.3" ry="2.78" fill="#000"/>
<ellipse cx="559.69" cy="776.97" rx="2.13" ry="2.12" fill="#000"/>
<ellipse cx="513.85" cy="748.87" rx="2.79" ry="2.8" fill="#000"/>
<ellipse cx="521.38" cy="787.81" rx="2.16" ry="1.86" fill="#000"/>
<ellipse cx="506.21" cy="732.74" rx="1.46" ry="1.82" fill="#000"/>
<ellipse cx="530.26" cy="734.36" rx="1.74" ry="2.09" fill="#000"/>
<ellipse cx="523.8" cy="790.97" rx="1.97" ry="1.5" fill="#000"/>
<ellipse cx="581.74" cy="774.01" rx="1.49" ry="1.16" fill="#000"/>
<ellipse cx="515.23" cy="737.1" rx="2.28" ry="2.97" fill="#000"/>
<ellipse cx="518.82" cy="777.43" rx="1.44" ry="2.01" fill="#000"/>
<ellipse cx="546.59" cy="738.84" rx="3.58" ry="2.58" fill="#000"/>
<ellipse cx="478.45" cy="772.25" rx="1.64" ry="1.43" fill="#000"/>
<ellipse cx="552.41" cy="769.13" rx="3.03" ry="2.69" fill="#000"/>
<ellipse cx="539.8" cy="750.74" rx="1.21" ry="1.65" fill="#000"/>
<ellipse cx="498.49" cy="758.29" rx="1.91" ry="1.79" fill="#000"/>
<ellipse cx="568.49" cy="759.01" rx="2.02" ry="2.03" fill="#000"/>
<ellipse cx="575.61" cy="749.61" rx="3.47" ry="3.34" fill="#000"/>
<ellipse cx="490.25" cy="754.77" rx="3.04" ry="2.12" fill="#000"/>
<ellipse cx="518.75" cy="780.82" rx="2.67" ry="2.27" fill="#000"/>
<ellipse cx="520.01" cy="730.43" rx="1.75" ry="2" fill="#000"/>
<ellipse cx="539.58" cy="757.37" rx="1.55" ry="1.75" fill="#000"/>
<ellipse cx="524.15" cy="739.11" rx="2.84" ry="3.18" fill="#000"/>
<ellipse cx="533.9" cy="773.17" rx="2.11" ry="2.3" fill="#000"/>
<ellipse cx="581.59" cy="776.03" rx="1.64" ry="2.24" fill="#000"/>
<ellipse cx="518.36" cy="754.95" rx="1.06" ry="1.25" fill="#000"/>
<ellipse cx="580.89" cy="782.06" rx="2.73" ry="2.25" fill="#000"/>
<ellipse cx="494.48" cy="771.6" rx="1.4" ry="1.32" fill="#000"/>
<ellipse cx="534.56" cy="735.19" rx="1.34" ry="1.13" fill="#000"/>
<ellipse cx="545.16" cy="749.43" rx="2.64" ry="2.42" fill="#000"/>
<ellipse cx="533.39" cy="740.94" rx="2.26" ry="1.66" fill="#000"/>
<ellipse cx="506.88" cy="763.34" rx="2.52" ry="2" fill="#000"/>
<ellipse cx="579.62" cy="727.68" rx="2.77" ry="3.04" fill="#000"/>
<ellipse cx="492.81" cy="778.17" rx="3.2" ry="2.45" fill="#000"/>
<ellipse cx="575.12" cy="799.4" rx="1.64" ry="1.16" fill="#000"/>
<ellipse cx="485.11" cy="786.21" rx="3.07" ry="2.63" fill="#000"/>
<ellipse cx="531.25" cy="746.6" rx="2.78" ry="2.36" fill="#000"/>
<ellipse cx="570.26" cy="740.95" rx="2.85" ry="2.09" fill="#000"/>
<ellipse cx="564.33" cy="739.33" rx="1.32" ry="1.69" fill="#000"/>
<ellipse cx="491.65" cy="799.86" rx="1.4" ry="1.32" fill="#000"/>
<ellipse cx="537.43" cy="769.3" rx="2.86" ry="2.26" fill="#000"/>
<ellipse cx="561.82" cy="752.79" rx="2.32" ry="2.61" fill="#000"/>
<ellipse cx="520.82" cy="790.6" rx="1.28" ry="1.44" fill="#000"/>
<ellipse cx="542" cy="789.01" rx="1.83" ry="1.76" fill="#000"/>
<ellipse cx="491.72" cy="736.59" rx="2.79" ry="2.35" fill="#000"/>
<ellipse cx="522.28" cy="764.37" rx="2.75" ry="2.7" fill="#000"/>
<ellipse cx="540" cy="796.56" rx="3.11" ry="2.39" fill="#000"/>
<ellipse cx="540.74" cy="788.31" rx="3.06" ry="2.91" fill="#000"/>
<ellipse cx="490.08" cy="764.47" rx="1.65" ry="1.84" fill="#000"/>
<ellipse cx="581.84" cy="784.16" rx="1.26" ry="1.31" fill="#000"/>
<ellipse cx="571.29" cy="760.78" rx="1.56" ry="1.34" fill="#000"/>
<ellipse cx="480.51" cy="770.86" rx="3.43" ry="3.27" fill="#000"/>
<ellipse cx="492.76" cy="768.52" rx="2.68" ry="2.3" fill="#000"/>
<ellipse cx="482.11" cy="796.23" rx="1.9" ry="1.65" fill="#000"/>
<ellipse cx="559.93" cy="751.57" rx="1.36" ry="1.36" fill="#000"/>
<ellipse cx="561.36" cy="756.56" rx="2.33" ry="2.62" fill="#000"/>
<ellipse cx="495.08" cy="792.62" rx="2.35" ry="3.32" fill="#000"/>
<ellipse cx="559.81" cy="778.46" rx="1.57" ry="1.54" fill="#000"/>
<ellipse cx="543.54" cy="798.95" rx="3.15" ry="3.4" fill="#000"/>
<ellipse cx="491.81" cy="748.58" rx="2.23" ry="2.54" fill="#000"/>
<ellipse cx="544.57" cy="773.03" rx="2.84" ry="2.23" fill="#000"/>
<ellipse cx="555.67" cy="771.43" rx="1.83" ry="1.66" fill="#000"/>
<ellipse cx="477.57" cy="751.44" rx="1.46" ry="1.73" fill="#000"/>
<ellipse cx="514.02" cy="796.1" rx="2.86" ry="2.97" fill="#000"/>
<ellipse cx="505.84" cy="734.8" rx="2.07" ry="2.74" fill="#000"/>
<ellipse cx="521.96" cy="793.08" rx="1.38" ry="1.73" fill="#000"/>
<ellipse cx="550.68" cy="745.38" rx="3.55" ry="3.08" fill="#000"/>
<ellipse cx="581.6" cy="800.43" rx="1.66" ry="1.61" fill="#000"/>
<ellipse cx="554.86" cy="751.7" rx="2.32" ry="2.48" fill="#000"/>
<ellipse cx="481.92" cy="754.4" rx="2.04" ry="1.5" fill="#000"/>
<ellipse cx="483.01" cy="734.74" rx="1.4" ry="1.61" fill="#000"/>
<ellipse cx="514.47" cy="733.66" rx="2.28" ry="2.47" fill="#000"/>
<ellipse cx="518" cy="773" rx="8" ry="12" fill="#000"/><ellipse cx="533" cy="769" rx="5" ry="9" fill="#000"/><ellipse cx="500" cy="790" rx="5" ry="4" fill="#000"/><ellipse cx="540" cy="748" rx="4" ry="5" fill="#000"/>
</g>
<clipPath id="c14"><polygon points="596.11,745.45 597.66,741.8 599.08,739.59 600.65,736.84 601.93,735.36 604.66,731.96 607.5,730.16 606.98,726.68 610.41,725.1 612.69,729.55 616.38,727.23 618.78,726.18 621.25,725.27 623.97,722.68 626.98,721.47 628.79,719.45 632.72,716.7 635.64,715.47 635.47,713.02 634.91,709.45 632.09,707.65 633.21,704.41 635.21,702.26 637.97,700.03 641.13,696.56 644.56,699.21 649.35,701.23 651.71,701.52 653.81,702.89 657.5,703.02 659.75,703.28 662.9,704.01 663.21,705.48 664.98,708.41 664.45,711.73 666.56,712.27 667.87,715.53 670.34,715.49 673.76,718.76 669.81,721.92 668.32,723.59 665.74,724.93 663.16,726.4 662.01,728.88 658.89,729.6 656.66,731.8 656.24,735.46 653.57,736.38 651.42,739.03 651.02,742.41 650.68,745.03 649.61,748.3 647.45,750.29 647.25,753.61 645.67,756.16 645.72,758.7 643.49,760.21 642.28,764.35 640.27,765.3 637.03,767.22 635.53,770.02 632.62,772.31 630.74,773.34 628.59,775.98 627.17,778.34 623.74,779.07 622.05,779.81 618.35,778.19 616.88,777.73 613.5,778.13 610.77,777.23 609.09,775.6 605.15,773.3 602.41,772.25 600.6,771.18 598.38,770.5 600.11,769.23 601.81,767.2 604.62,764.25 604.14,762 603.1,759.19 601.83,754.95 598.89,753.29 598.1,752.05 597.65,748.35"/></clipPath>
<filter id="s14" color-interpolation-filters="sRGB" x="0" y="0" width="1" height="1"><feTurbulence type="fractalNoise" baseFrequency="0.08 0.22" numOctaves="2" seed="24"/><feColorMatrix type="matrix" values="0 0 0 0 0.36  0 0 0 0 0.36  0 0 0 0 0.36  12 0 0 0 -7.2"/></filter>
<g id="P14" clip-path="url(#c14)">
<rect x="594.6" y="694.6" width="80.2" height="86.7" fill="#050505"/>
<polygon points="645,727 655,716 664,711 672,718 666,725 657,732 650,738 645,734" fill="#6e6e6e"/>
<polygon points="606,727 611,726 609,734 605,733" fill="#5a5a5a"/>
<rect x="547.3" y="650.3" width="173.4" height="173.4" transform="rotate(-40 634 737)" filter="url(#s14)"/>
<circle cx="654" cy="708" r="2.5" fill="#000"/><circle cx="660" cy="712" r="2.2" fill="#000"/><circle cx="649" cy="714" r="2" fill="#000"/>
</g>
<use href="#P10" transform="translate(230.04 -344.91) scale(0.835)"/>
<use href="#P11" transform="translate(136.52 -157.05) scale(0.835)"/>
<use href="#P12" transform="translate(32.35 -201.37) scale(0.835)"/>
<use href="#P14" transform="translate(101.51 -451.75) scale(0.835)"/>
<polyline points="129.2,106 129.2,134.3 281,134.3" fill="none" stroke="#6A96CC" stroke-width="1.1"/>
<polyline points="247.4,83.5 247.4,69.2 355,69.2" fill="none" stroke="#6A96CC" stroke-width="1.1"/>
<polyline points="326.1,184 326.1,153.3 508,153.3" fill="none" stroke="#6A96CC" stroke-width="1.1"/>
<polyline points="450.4,264.5 450.4,232.4 464.5,232.4" fill="none" stroke="#6A96CC" stroke-width="1.1"/>
<polyline points="487,319 541,319" fill="none" stroke="#6A96CC" stroke-width="1.1"/>
<polyline points="480.6,334 480.6,340" fill="none" stroke="#6A96CC" stroke-width="1.1"/>
<polyline points="632,190 632,215.5" fill="none" stroke="#6A96CC" stroke-width="1.1"/>
<polyline points="251.4,622 251.4,650.5" fill="none" stroke="#6A96CC" stroke-width="1.1"/>
<polyline points="312.5,597 329,597" fill="none" stroke="#6A96CC" stroke-width="1.1"/>
<polyline points="144.1,678 144.1,720.3 288.3,720.3 288.3,784" fill="none" stroke="#6A96CC" stroke-width="1.1"/>
<polyline points="480.7,656 480.7,596.3 502,596.3" fill="none" stroke="#6A96CC" stroke-width="1.1"/>
<polyline points="477.6,735 477.6,689 501.5,689" fill="none" stroke="#6A96CC" stroke-width="1.1"/>
<polyline points="443.5,745.2 456.1,745.2 456.1,768.7 479.5,768.7" fill="none" stroke="#6A96CC" stroke-width="1.1"/>
<polyline points="632,771 632,782" fill="none" stroke="#6A96CC" stroke-width="1.1"/>
<rect x="209.5" y="70.05" width="13" height="11.9" fill="#FBE8D0"/>
<rect x="218.3" y="119.05" width="13" height="11.9" fill="#FBE8D0"/>
<rect x="240.9" y="228.05" width="13" height="11.9" fill="#FBE8D0"/>
<rect x="288.5" y="259.85" width="13" height="11.9" fill="#FBE8D0"/>
<rect x="340" y="279.35" width="13" height="11.9" fill="#FBE8D0"/>
<rect x="273.2" y="302.95" width="13" height="11.9" fill="#FBE8D0"/>
<rect x="316.1" y="348.25" width="13" height="11.9" fill="#FBE8D0"/>
<rect x="474.7" y="321.45" width="13" height="11.9" fill="#FBE8D0"/>
<rect x="625.3" y="215.65" width="13" height="11.9" fill="#FBE8D0"/>
<rect x="217.7" y="694.35" width="13" height="11.9" fill="#FBE8D0"/>
<rect x="210.1" y="735.25" width="13" height="11.9" fill="#FBE8D0"/>
<rect x="288.5" y="759.65" width="13" height="11.9" fill="#FBE8D0"/>
<rect x="339.5" y="750.05" width="13" height="11.9" fill="#FBE8D0"/>
<rect x="316.2" y="777.05" width="13" height="11.9" fill="#FBE8D0"/>
<rect x="271.4" y="789.45" width="13" height="11.9" fill="#FBE8D0"/>
<rect x="240.5" y="791.45" width="13" height="11.9" fill="#FBE8D0"/>
<rect x="472.7" y="736.55" width="13" height="11.9" fill="#FBE8D0"/>
<rect x="625.5" y="782.45" width="13" height="11.9" fill="#FBE8D0"/>
<polygon points="227.65,33.92 243.55,33.92 235.6,47.68" fill="#EA626B"/>
<polygon points="338.05,35.22 353.95,35.22 346,48.98" fill="#EA626B"/>
<polygon points="279.05,89.32 294.95,89.32 287,103.08" fill="#EA626B"/>
<polygon points="323.45,83.32 339.35,83.32 331.4,97.08" fill="#EA626B"/>
<polygon points="192.15,139.62 208.05,139.62 200.1,153.38" fill="#EA626B"/>
<polygon points="168.85,158.82 184.75,158.82 176.8,172.58" fill="#EA626B"/>
<polygon points="186.95,219.22 202.85,219.22 194.9,232.98" fill="#EA626B"/>
<polygon points="307.85,274.92 323.75,274.92 315.8,288.68" fill="#EA626B"/>
<polygon points="328.75,265.92 344.65,265.92 336.7,279.68" fill="#EA626B"/>
<polygon points="410.35,275.52 426.25,275.52 418.3,289.28" fill="#EA626B"/>
<polygon points="424.35,337.82 440.25,337.82 432.3,351.58" fill="#EA626B"/>
<polygon points="410.35,459.62 426.25,459.62 418.3,473.38" fill="#EA626B"/>
<polygon points="338.25,607.12 354.15,607.12 346.2,620.88" fill="#EA626B"/>
<polygon points="279.55,646.32 295.45,646.32 287.5,660.08" fill="#EA626B"/>
<polygon points="324.45,649.72 340.35,649.72 332.4,663.48" fill="#EA626B"/>
<polygon points="329.55,681.92 345.45,681.92 337.5,695.68" fill="#EA626B"/>
<polygon points="190.75,673.92 206.65,673.92 198.7,687.68" fill="#EA626B"/>
<polygon points="168.65,686.22 184.55,686.22 176.6,699.98" fill="#EA626B"/>
<polygon points="228.75,707.52 244.65,707.52 236.7,721.28" fill="#EA626B"/>
<polygon points="307.55,703.12 323.45,703.12 315.5,716.88" fill="#EA626B"/>
<polygon points="426.25,707.82 442.15,707.82 434.2,721.58" fill="#EA626B"/>
<polygon points="187.35,796.82 203.25,796.82 195.3,810.58" fill="#EA626B"/>
<polygon points="481.2,311.12 489.15,324.88 473.25,324.88" fill="#EA626B"/>
<polygon points="252,649.52 259.95,663.28 244.05,663.28" fill="#EA626B"/>
<polygon points="480.7,654.72 488.65,668.48 472.75,668.48" fill="#EA626B"/>
<polygon points="278.8,687.42 286.75,701.18 270.85,701.18" fill="#EA626B"/>
<polygon points="261.5,699.42 269.45,713.18 253.55,713.18" fill="#EA626B"/>
<polygon points="389,700.72 396.95,714.48 381.05,714.48" fill="#EA626B"/>
<polygon points="397.6,727.02 405.55,740.78 389.65,740.78" fill="#EA626B"/>
<polygon points="211.5,770.92 219.45,784.68 203.55,784.68" fill="#EA626B"/>
<polygon points="224.8,88.2 231.84,93.31 229.15,101.59 220.45,101.59 217.76,93.31" fill="#EA626B"/>
<polygon points="384.5,211.4 391.54,216.51 388.85,224.79 380.15,224.79 377.46,216.51" fill="#EA626B"/>
<polygon points="299.9,308.5 306.94,313.61 304.25,321.89 295.55,321.89 292.86,313.61" fill="#EA626B"/>
<polygon points="376.2,303 383.24,308.11 380.55,316.39 371.85,316.39 369.16,308.11" fill="#EA626B"/>
<polygon points="299.2,711.7 306.24,716.81 303.55,725.09 294.85,725.09 292.16,716.81" fill="#EA626B"/>
<polygon points="226.4,748 233.44,753.11 230.75,761.39 222.05,761.39 219.36,753.11" fill="#EA626B"/>
<polygon points="374.6,728.3 381.64,733.41 378.95,741.69 370.25,741.69 367.56,733.41" fill="#EA626B"/>
<polygon points="385.7,741.4 392.74,746.51 390.05,754.79 381.35,754.79 378.66,746.51" fill="#EA626B"/>
<circle cx="255.5" cy="85.5" r="6.7" fill="#EA626B"/>
<circle cx="271.1" cy="96" r="6.7" fill="#EA626B"/>
<circle cx="304.5" cy="79.7" r="6.7" fill="#EA626B"/>
<circle cx="273.9" cy="127" r="6.7" fill="#EA626B"/>
<circle cx="216.8" cy="167.1" r="6.7" fill="#EA626B"/>
<circle cx="408.5" cy="170.3" r="6.7" fill="#EA626B"/>
<circle cx="274" cy="740.5" r="6.7" fill="#EA626B"/>
<circle cx="408.4" cy="761.5" r="6.7" fill="#EA626B"/>
<circle cx="217.6" cy="788.2" r="6.7" fill="#EA626B"/>
<circle cx="271.3" cy="783.5" r="6.7" fill="#EA626B"/>
<circle cx="257.4" cy="797.4" r="6.7" fill="#EA626B"/>
<circle cx="304.4" cy="795.4" r="6.7" fill="#EA626B"/>
<polygon points="156.94,112.45 172.06,112.45 164.5,125.55" fill="none" stroke="#3E6DB4" stroke-width="1.4"/>
<polygon points="282.64,129.45 297.76,129.45 290.2,142.55" fill="none" stroke="#3E6DB4" stroke-width="1.4"/>
<polygon points="145.84,185.25 160.96,185.25 153.4,198.35" fill="none" stroke="#3E6DB4" stroke-width="1.4"/>
<polygon points="206.34,196.25 221.46,196.25 213.9,209.35" fill="none" stroke="#3E6DB4" stroke-width="1.4"/>
<polygon points="196.04,253.95 211.16,253.95 203.6,267.05" fill="none" stroke="#3E6DB4" stroke-width="1.4"/>
<polygon points="201.34,259.25 216.46,259.25 208.9,272.35" fill="none" stroke="#3E6DB4" stroke-width="1.4"/>
<polygon points="264.54,231.85 279.66,231.85 272.1,244.95" fill="none" stroke="#3E6DB4" stroke-width="1.4"/>
<polygon points="272.74,255.45 287.86,255.45 280.3,268.55" fill="none" stroke="#3E6DB4" stroke-width="1.4"/>
<polygon points="266.24,278.75 281.36,278.75 273.8,291.85" fill="none" stroke="#3E6DB4" stroke-width="1.4"/>
<polygon points="145.14,734.05 160.26,734.05 152.7,747.15" fill="none" stroke="#3E6DB4" stroke-width="1.4"/>
<polygon points="156.84,749.45 171.96,749.45 164.4,762.55" fill="none" stroke="#3E6DB4" stroke-width="1.4"/>
<polygon points="205.54,751.05 220.66,751.05 213.1,764.15" fill="none" stroke="#3E6DB4" stroke-width="1.4"/>
<polygon points="201.24,777.75 216.36,777.75 208.8,790.85" fill="none" stroke="#3E6DB4" stroke-width="1.4"/>
<polygon points="197.74,794.45 212.86,794.45 205.3,807.55" fill="none" stroke="#3E6DB4" stroke-width="1.4"/>
<polygon points="265.84,771.45 280.96,771.45 273.4,784.55" fill="none" stroke="#3E6DB4" stroke-width="1.4"/>
<polygon points="268.24,781.65 283.36,781.65 275.8,794.75" fill="none" stroke="#3E6DB4" stroke-width="1.4"/>
<polygon points="265.24,788.85 280.36,788.85 272.8,801.95" fill="none" stroke="#3E6DB4" stroke-width="1.4"/>
<polygon points="282.54,783.75 297.66,783.75 290.1,796.85" fill="none" stroke="#3E6DB4" stroke-width="1.4"/>
<circle cx="248.5" cy="89.9" r="6.53" fill="none" stroke="#5083C6" stroke-width="1.35"/>
<circle cx="276.8" cy="176.1" r="6.53" fill="none" stroke="#5083C6" stroke-width="1.35"/>
<circle cx="300.7" cy="194.2" r="6.53" fill="none" stroke="#5083C6" stroke-width="1.35"/>
<circle cx="328.2" cy="190.4" r="6.53" fill="none" stroke="#5083C6" stroke-width="1.35"/>
<circle cx="334" cy="196.6" r="6.53" fill="none" stroke="#5083C6" stroke-width="1.35"/>
<circle cx="358.2" cy="213.8" r="6.53" fill="none" stroke="#5083C6" stroke-width="1.35"/>
<circle cx="284.7" cy="247.4" r="6.53" fill="none" stroke="#5083C6" stroke-width="1.35"/>
<circle cx="437.4" cy="280" r="6.53" fill="none" stroke="#5083C6" stroke-width="1.35"/>
<circle cx="306" cy="597.1" r="6.53" fill="none" stroke="#5083C6" stroke-width="1.35"/>
<circle cx="334.2" cy="625.8" r="6.53" fill="none" stroke="#5083C6" stroke-width="1.35"/>
<circle cx="278.4" cy="713.7" r="6.53" fill="none" stroke="#5083C6" stroke-width="1.35"/>
<circle cx="301" cy="741.2" r="6.53" fill="none" stroke="#5083C6" stroke-width="1.35"/>
<circle cx="328.8" cy="746.2" r="6.53" fill="none" stroke="#5083C6" stroke-width="1.35"/>
<circle cx="248.7" cy="766.2" r="6.53" fill="none" stroke="#5083C6" stroke-width="1.35"/>
<circle cx="359.3" cy="770.4" r="6.53" fill="none" stroke="#5083C6" stroke-width="1.35"/>
<circle cx="436.2" cy="745.4" r="6.53" fill="none" stroke="#5083C6" stroke-width="1.35"/>
<polygon points="251.5,261.41 257.39,267.3 251.5,273.19 245.61,267.3" fill="none" stroke="#3E6DB4" stroke-width="1.3"/>
<polygon points="234.6,287.71 240.49,293.6 234.6,299.49 228.71,293.6" fill="none" stroke="#3E6DB4" stroke-width="1.3"/>
<polygon points="170.1,323.31 175.99,329.2 170.1,335.09 164.21,329.2" fill="none" stroke="#3E6DB4" stroke-width="1.3"/>
<polygon points="450.7,264.91 456.59,270.8 450.7,276.69 444.81,270.8" fill="none" stroke="#3E6DB4" stroke-width="1.3"/>
<polygon points="169.8,771.31 175.69,777.2 169.8,783.09 163.91,777.2" fill="none" stroke="#3E6DB4" stroke-width="1.3"/>
<polygon points="202.2,761.91 208.09,767.8 202.2,773.69 196.31,767.8" fill="none" stroke="#3E6DB4" stroke-width="1.3"/>
<polygon points="252,740.61 257.89,746.5 252,752.39 246.11,746.5" fill="none" stroke="#3E6DB4" stroke-width="1.3"/>
<polygon points="235.4,794.61 241.29,800.5 235.4,806.39 229.51,800.5" fill="none" stroke="#3E6DB4" stroke-width="1.3"/>
<polygon points="450.2,724.31 456.09,730.2 450.2,736.09 444.31,730.2" fill="none" stroke="#3E6DB4" stroke-width="1.3"/>
<rect x="242.4" y="198.1" width="11.8" height="11" fill="none" stroke="#F58CEF" stroke-width="1.4"/>
<rect x="126" y="246.2" width="11.8" height="11" fill="none" stroke="#F58CEF" stroke-width="1.4"/>
<rect x="281.4" y="277" width="11.8" height="11" fill="none" stroke="#F58CEF" stroke-width="1.4"/>
<rect x="125.3" y="794.4" width="11.8" height="11" fill="none" stroke="#F58CEF" stroke-width="1.4"/>
<rect x="241.3" y="791.9" width="11.8" height="11" fill="none" stroke="#F58CEF" stroke-width="1.4"/>
<rect x="281.8" y="789.9" width="11.8" height="11" fill="none" stroke="#F58CEF" stroke-width="1.4"/>
<polygon points="226.4,249.44 233.98,262.56 218.82,262.56" fill="none" stroke="#F58CEF" stroke-width="1.2"/>
<polygon points="236.3,253.14 243.88,266.26 228.72,266.26" fill="none" stroke="#F58CEF" stroke-width="1.2"/>
<polygon points="178.1,292.94 185.68,306.06 170.52,306.06" fill="none" stroke="#F58CEF" stroke-width="1.2"/>
<polygon points="178,792.34 185.58,805.46 170.42,805.46" fill="none" stroke="#F58CEF" stroke-width="1.2"/>
<polygon points="225.8,786.84 233.38,799.96 218.22,799.96" fill="none" stroke="#F58CEF" stroke-width="1.2"/>
<polygon points="237.4,787.84 244.98,800.96 229.82,800.96" fill="none" stroke="#F58CEF" stroke-width="1.2"/>
<line x1="60" y1="9" x2="681" y2="9" stroke="#ababab" stroke-width="1.5"/>
<line x1="60" y1="417" x2="681" y2="417" stroke="#a8a8a8" stroke-width="1.5"/>
<line x1="60.6" y1="8.3" x2="60.6" y2="810" stroke="#8e8e8e" stroke-width="1.2"/>
<line x1="680.45" y1="8.3" x2="680.45" y2="810" stroke="#7a7a7a" stroke-width="1.2"/>
<line x1="60" y1="809.4" x2="681" y2="809.4" stroke="#787878" stroke-width="1.1"/>
<line x1="60.6" y1="335.5" x2="75.2" y2="335.5" stroke="#646464" stroke-width="1.05"/>
<line x1="60.6" y1="253.5" x2="75.2" y2="253.5" stroke="#646464" stroke-width="1.05"/>
<line x1="60.6" y1="172.5" x2="75.2" y2="172.5" stroke="#646464" stroke-width="1.05"/>
<line x1="60.6" y1="90.5" x2="75.2" y2="90.5" stroke="#646464" stroke-width="1.05"/>
<line x1="60.6" y1="376.5" x2="67.3" y2="376.5" stroke="#646464" stroke-width="1.05"/>
<line x1="60.6" y1="294.5" x2="67.3" y2="294.5" stroke="#646464" stroke-width="1.05"/>
<line x1="60.6" y1="213.5" x2="67.3" y2="213.5" stroke="#646464" stroke-width="1.05"/>
<line x1="60.6" y1="131.5" x2="67.3" y2="131.5" stroke="#646464" stroke-width="1.05"/>
<line x1="60.6" y1="49.5" x2="67.3" y2="49.5" stroke="#646464" stroke-width="1.05"/>
<line x1="60.6" y1="-32.5" x2="67.3" y2="-32.5" stroke="#646464" stroke-width="1.05"/>
<line x1="60.6" y1="-113.5" x2="67.3" y2="-113.5" stroke="#646464" stroke-width="1.05"/>
<line x1="60.6" y1="-195.5" x2="67.3" y2="-195.5" stroke="#646464" stroke-width="1.05"/>
<line x1="60.6" y1="-277.5" x2="67.3" y2="-277.5" stroke="#646464" stroke-width="1.05"/>
<line x1="60.6" y1="748.5" x2="75.2" y2="748.5" stroke="#646464" stroke-width="1.05"/>
<line x1="60.6" y1="688.5" x2="75.2" y2="688.5" stroke="#646464" stroke-width="1.05"/>
<line x1="60.6" y1="628.5" x2="75.2" y2="628.5" stroke="#646464" stroke-width="1.05"/>
<line x1="60.6" y1="568.5" x2="75.2" y2="568.5" stroke="#646464" stroke-width="1.05"/>
<line x1="60.6" y1="508.5" x2="75.2" y2="508.5" stroke="#646464" stroke-width="1.05"/>
<line x1="60.6" y1="447.5" x2="75.2" y2="447.5" stroke="#646464" stroke-width="1.05"/>
<line x1="60.6" y1="779.5" x2="67.3" y2="779.5" stroke="#646464" stroke-width="1.05"/>
<line x1="60.6" y1="718.5" x2="67.3" y2="718.5" stroke="#646464" stroke-width="1.05"/>
<line x1="60.6" y1="658.5" x2="67.3" y2="658.5" stroke="#646464" stroke-width="1.05"/>
<line x1="60.6" y1="598.5" x2="67.3" y2="598.5" stroke="#646464" stroke-width="1.05"/>
<line x1="60.6" y1="538.5" x2="67.3" y2="538.5" stroke="#646464" stroke-width="1.05"/>
<line x1="60.6" y1="478.5" x2="67.3" y2="478.5" stroke="#646464" stroke-width="1.05"/>
<line x1="149.5" y1="417" x2="149.5" y2="404" stroke="#646464" stroke-width="1.05"/>
<line x1="149.5" y1="809.4" x2="149.5" y2="796" stroke="#646464" stroke-width="1.05"/>
<line x1="238.5" y1="417" x2="238.5" y2="404" stroke="#646464" stroke-width="1.05"/>
<line x1="238.5" y1="809.4" x2="238.5" y2="796" stroke="#646464" stroke-width="1.05"/>
<line x1="326.5" y1="417" x2="326.5" y2="404" stroke="#646464" stroke-width="1.05"/>
<line x1="326.5" y1="809.4" x2="326.5" y2="796" stroke="#646464" stroke-width="1.05"/>
<line x1="415.5" y1="417" x2="415.5" y2="404" stroke="#646464" stroke-width="1.05"/>
<line x1="415.5" y1="809.4" x2="415.5" y2="796" stroke="#646464" stroke-width="1.05"/>
<line x1="503.5" y1="417" x2="503.5" y2="404" stroke="#646464" stroke-width="1.05"/>
<line x1="503.5" y1="809.4" x2="503.5" y2="796" stroke="#646464" stroke-width="1.05"/>
<line x1="592.5" y1="417" x2="592.5" y2="404" stroke="#646464" stroke-width="1.05"/>
<line x1="592.5" y1="809.4" x2="592.5" y2="796" stroke="#646464" stroke-width="1.05"/>
<line x1="60.6" y1="9" x2="75.2" y2="9" stroke="#646464" stroke-width="1.3"/>
<polyline points="61.1,404 61.1,417.3 67.5,417.3" fill="none" stroke="#333" stroke-width="1.2"/>
<line x1="61.1" y1="796" x2="61.1" y2="809.4" stroke="#333" stroke-width="1.2"/>
<text transform="translate(46.8 335.6) rotate(-90)" text-anchor="middle" font-size="16" fill="#141414">0.10</text>
<text transform="translate(46.8 253.9) rotate(-90)" text-anchor="middle" font-size="16" fill="#141414">0.20</text>
<text transform="translate(46.8 172.2) rotate(-90)" text-anchor="middle" font-size="16" fill="#141414">0.30</text>
<text transform="translate(46.8 90.5) rotate(-90)" text-anchor="middle" font-size="16" fill="#141414">0.40</text>
<text transform="translate(46.8 16.2) rotate(-90)" text-anchor="middle" font-size="16" fill="#141414">0.50</text>
<text transform="translate(46.8 748.9) rotate(-90)" font-size="16" fill="#141414"><tspan x="-16.8">1x10</tspan><tspan dy="-7" font-size="10">14</tspan></text>
<text transform="translate(46.8 688.7) rotate(-90)" font-size="16" fill="#141414"><tspan x="-16.8">2x10</tspan><tspan dy="-7" font-size="10">14</tspan></text>
<text transform="translate(46.8 628.5) rotate(-90)" font-size="16" fill="#141414"><tspan x="-16.8">3x10</tspan><tspan dy="-7" font-size="10">14</tspan></text>
<text transform="translate(46.8 568.3) rotate(-90)" font-size="16" fill="#141414"><tspan x="-16.8">4x10</tspan><tspan dy="-7" font-size="10">14</tspan></text>
<text transform="translate(46.8 508.1) rotate(-90)" font-size="16" fill="#141414"><tspan x="-16.8">5x10</tspan><tspan dy="-7" font-size="10">14</tspan></text>
<text transform="translate(46.8 447.9) rotate(-90)" font-size="16" fill="#141414"><tspan x="-16.8">6x10</tspan><tspan dy="-7" font-size="10">14</tspan></text>
<text x="149.46" y="837.7" text-anchor="middle" font-size="15.8" fill="#141414">0.10</text>
<text x="237.92" y="837.7" text-anchor="middle" font-size="15.8" fill="#141414">0.20</text>
<text x="326.38" y="837.7" text-anchor="middle" font-size="15.8" fill="#141414">0.30</text>
<text x="414.84" y="837.7" text-anchor="middle" font-size="15.8" fill="#141414">0.40</text>
<text x="503.3" y="837.7" text-anchor="middle" font-size="15.8" fill="#141414">0.50</text>
<text x="591.76" y="837.7" text-anchor="middle" font-size="15.8" fill="#141414">0.60</text>
<text x="669.8" y="837.7" text-anchor="middle" font-size="15.8" fill="#141414">0.70</text>
<text x="300" y="858.8" font-size="15.5" fill="#141414">Bulk vesicularity (<tspan font-size="9" dy="-6">&#966;</tspan><tspan dy="6">BV)</tspan></text>
<text transform="translate(12.6 281.2) rotate(-90)" font-size="15.6" fill="#141414">Crystallinity (&#966;<tspan font-size="9" dy="-6">o</tspan><tspan font-size="8" dy="9">Pc+Mpc</tspan><tspan dy="-3">)</tspan></text>
<text transform="translate(12.6 712.3) rotate(-90)" font-size="14.9" fill="#141414">Vesicle number density (VND m<tspan font-size="9" dy="-6">-3</tspan><tspan dy="6">)</tspan></text>
<text x="656.6" y="32" font-size="18.4" fill="#141414">a</text>
<text x="656.5" y="441" font-size="18" fill="#141414">b</text>
<text x="84.5" y="343.8" font-size="12" font-weight="bold" fill="#333">Lithofacies:</text>
<rect x="84.2" y="350.5" width="14.6" height="11.1" fill="#FBE8D0"/>
<text x="110.2" y="360.1" font-size="12" fill="#333">Pf</text>
<rect x="84.2" y="364.35" width="14.6" height="11.1" fill="#EA626B"/>
<text x="110.2" y="373.95" font-size="12" fill="#333">Sf</text>
<rect x="84.2" y="378.2" width="14.6" height="11.1" fill="#3F6BB5"/>
<text x="110.2" y="387.8" font-size="12" fill="#333">Ds-aa</text>
<rect x="84.2" y="392.05" width="14.6" height="11.1" fill="#FDCFF9"/>
<text x="110.2" y="401.65" font-size="12" fill="#333">Alt-aa</text>
<text x="84.5" y="434.6" font-size="12" font-weight="bold" fill="#333">Lithofacies:</text>
<rect x="84.2" y="441.3" width="14.6" height="11.1" fill="#FBE8D0"/>
<text x="110.2" y="450.9" font-size="12" fill="#333">Pf</text>
<rect x="84.2" y="455.15" width="14.6" height="11.1" fill="#EA626B"/>
<text x="110.2" y="464.75" font-size="12" fill="#333">Sf</text>
<rect x="84.2" y="469" width="14.6" height="11.1" fill="#3F6BB5"/>
<text x="110.2" y="478.6" font-size="12" fill="#333">Ds-aa</text>
<rect x="84.2" y="482.85" width="14.6" height="11.1" fill="#FDCFF9"/>
<text x="110.2" y="492.45" font-size="12" fill="#333">Alt-aa</text>
<text x="83.4" y="889.8" font-size="13" font-weight="bold" fill="#2B2B2B">YCT Units:</text>
<polygon points="177.1,875.5 185.94,881.93 182.57,892.32 171.63,892.32 168.26,881.93" fill="#2B2B2B"/>
<text x="193.7" y="889.8" font-size="12.5" fill="#333">A</text>
<rect x="217.7" y="878.4" width="13.7" height="12.8" fill="#2B2B2B"/>
<text x="241" y="889.8" font-size="12.5" fill="#333">B</text>
<polygon points="264.6,878.1 281.2,878.1 272.9,891.8" fill="#2B2B2B"/>
<text x="290" y="889.8" font-size="12.5" fill="#333">C</text>
<polygon points="320.8,878.1 329.4,892.1 312.2,892.1" fill="#2B2B2B"/>
<text x="338.2" y="889.8" font-size="12.5" fill="#333">D</text>
<circle cx="368.8" cy="885.1" r="7.3" fill="#2B2B2B"/>
<text x="385.2" y="889.8" font-size="12.5" fill="#333">E</text>
<polygon points="403.4,878.3 419.6,878.3 411.5,891.6" fill="none" stroke="#2B2B2B" stroke-width="1.3"/>
<text x="428.3" y="889.8" font-size="12.5" fill="#333">F</text>
<polygon points="457.2,878.6 463.5,884.9 457.2,891.2 450.9,884.9" fill="none" stroke="#2B2B2B" stroke-width="1.3"/>
<text x="473.6" y="889.8" font-size="12.5" fill="#333">G</text>
<circle cx="507.3" cy="885" r="6.2" fill="none" stroke="#2B2B2B" stroke-width="1.3"/>
<text x="522.6" y="889.8" font-size="12.5" fill="#333">H</text>
<rect x="551.9" y="879.5" width="12.2" height="11.6" fill="none" stroke="#2B2B2B" stroke-width="1.3"/>
<text x="574.6" y="889.8" font-size="12.5" fill="#333">I</text>
<polygon points="605.2,878.3 613.3,891.8 597.1,891.8" fill="none" stroke="#2B2B2B" stroke-width="1.3"/>
<text x="621.4" y="889.8" font-size="12.5" fill="#333">J</text>
<polyline points="176.2,893 176.2,907.5 239.6,907.5" fill="none" stroke="#555" stroke-width="1.1"/>
<polyline points="304.9,907.5 368.4,907.5 368.4,892.5" fill="none" stroke="#555" stroke-width="1.1"/>
<text x="241.6" y="912" font-size="13" font-weight="bold" fill="#2B2B2B">Magmatic</text>
<polyline points="411.5,892 411.5,907.5 450.2,907.5" fill="none" stroke="#555" stroke-width="1.1"/>
<polyline points="568,907.8 604.8,907.8 604.8,892.2" fill="none" stroke="#555" stroke-width="1.1"/>
<text x="451.1" y="912" font-size="13" font-weight="bold" fill="#2B2B2B">Phreatomagmatic</text>
<rect x="91.2" y="118.8" width="11.8" height="1.9" fill="#111"/>
<text x="91.3" y="131.4" font-size="9.4" fill="#333">100 &#181;m</text>
<rect x="569.9" y="630.4" width="14" height="1.9" fill="#111"/>
<text x="569.1" y="645.7" font-size="9.4" fill="#333">100 &#181;m</text>
</svg></body></html>
